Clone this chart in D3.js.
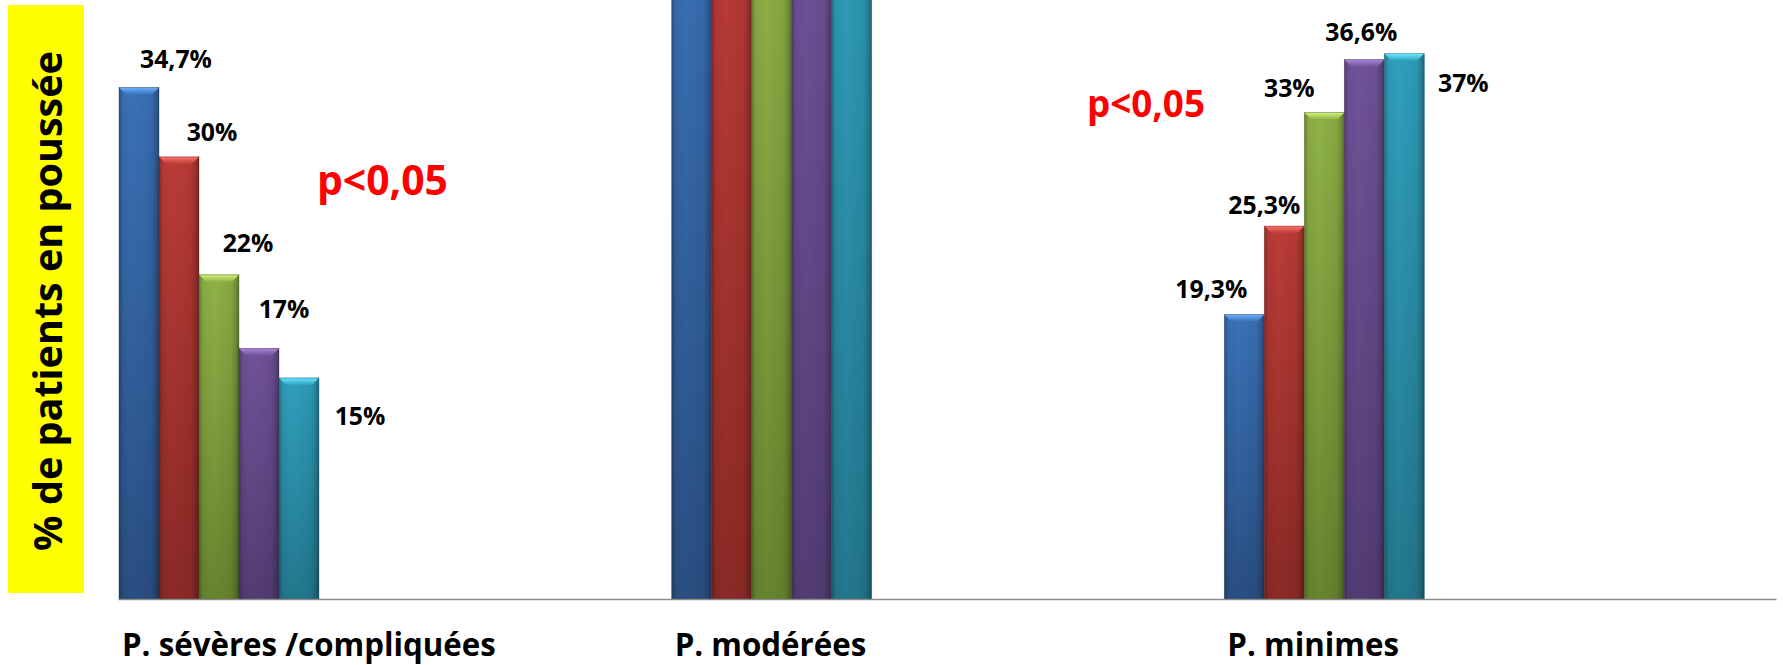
<!DOCTYPE html>
<html>
<head>
<meta charset="utf-8">
<script src="https://cdn.jsdelivr.net/npm/d3@7"></script>
<style>
  html, body { margin: 0; padding: 0; background: #ffffff; overflow: hidden; }
  text { font-family: 'Open Sans', 'DejaVu Sans', sans-serif; font-weight: 700; }
</style>
</head>
<body>
<svg id="chart" width="1783" height="665"></svg>
<script>
// ---- data -------------------------------------------------------------
const categories = ["P. sévères /compliquées", "P. modérées", "P. minimes"];
const seriesNames = ["Série 1", "Série 2", "Série 3", "Série 4", "Série 5"];
// one array per series, values in % for each category
const serie1 = [34.7, 46.0, 19.3];
const serie2 = [30.0, 44.7, 25.3];
const serie3 = [22.0, 45.0, 33.0];
const serie4 = [17.0, 46.4, 36.6];
const serie5 = [15.0, 48.0, 37.0];
const seriesValues = [serie1, serie2, serie3, serie4, serie5];
// categories whose bars carry a value label
const labelledCategories = [0, 2];
const yTitle = "% de patients en poussée";
const pValueText = "p<0,05";

// ---- layout -----------------------------------------------------------
const W = 1783, H = 665;
const axisLeft = 118, axisRight = 1776, baseY = 599;
const groupWidth = 200;
const colors = [
  { top: "#3a72b8", bottom: "#2a4f82", bevel: "#5b97dc" },
  { top: "#bc3c37", bottom: "#8b2a26", bevel: "#dd625c" },
  { top: "#8fb247", bottom: "#67852f", bevel: "#b1d468" },
  { top: "#71539a", bottom: "#533d74", bevel: "#9274bd" },
  { top: "#30a0bd", bottom: "#23788e", bevel: "#58cbe6" }
];
// label offsets (dx from bar centre, dy from bar top to label centre)
const labelOffsets = [
  [[37, -28], null, [-33, -25]],
  [[33, -25], null, [-20, -21]],
  [[29, -32], null, [-35, -25]],
  [[25, -39], null, [-3, -27]],
  [[61, 38], null, [59, 29]]
];
const pAnnotations = [
  { x: 317, y: 195, width: 131 },
  { x: 1087, y: 117, width: 118 }
];

const svg = d3.select("#chart");
const defs = svg.append("defs");

const fr = d3.formatLocale({ decimal: ",", thousands: " ", grouping: [3], currency: ["", " €"] });
const fmt = v => fr.format(".1~f")(v) + "%";

// font size needed for a string to reach a given width
function fitSize(text, target, base = 40) {
  const t = svg.append("text").attr("font-size", base).text(text);
  const w = t.node().getComputedTextLength();
  t.remove();
  return base * target / w;
}

// ---- scales -----------------------------------------------------------
const x = d3.scaleBand().domain(d3.range(categories.length))
  .range([axisLeft, axisRight]).paddingInner(0).paddingOuter(0);
const xs = d3.scaleBand().domain(d3.range(seriesNames.length))
  .range([0, groupWidth]).padding(0);
const pxPerUnit = 14.74;
const y = d3.scaleLinear().domain([0, baseY / pxPerUnit]).range([baseY, 0]);

// ---- gradients --------------------------------------------------------
colors.forEach((c, i) => {
  const g = defs.append("linearGradient").attr("id", "body" + i)
    .attr("x1", 0).attr("y1", 0).attr("x2", 0).attr("y2", 1);
  g.append("stop").attr("offset", 0).attr("stop-color", c.top);
  g.append("stop").attr("offset", 1).attr("stop-color", c.bottom);
  const b = defs.append("linearGradient").attr("id", "bevel" + i)
    .attr("x1", 0).attr("y1", 0).attr("x2", 0).attr("y2", 1);
  b.append("stop").attr("offset", 0).attr("stop-color", d3.color(c.bevel).brighter(0.35));
  b.append("stop").attr("offset", 1).attr("stop-color", c.top);
});
const shade = defs.append("linearGradient").attr("id", "shade")
  .attr("x1", 0).attr("y1", 0).attr("x2", 1).attr("y2", 0);
[[0, 0.28], [0.1, 0.05], [0.35, 0], [0.8, 0.06], [0.92, 0.2], [1, 0.38]].forEach(([o, a]) =>
  shade.append("stop").attr("offset", o).attr("stop-color", "#000").attr("stop-opacity", a));

// ---- y title on yellow band -----------------------------------------
svg.append("rect").attr("x", 8).attr("y", 5).attr("width", 76).attr("height", 588)
  .attr("fill", "#ffff00");
svg.append("text")
  .attr("transform", "translate(62,301) rotate(-90)")
  .attr("text-anchor", "middle")
  .attr("font-size", fitSize(yTitle, 500))
  .attr("fill", "#000")
  .text(yTitle);

// ---- bars -------------------------------------------------------------
const bars = [];
seriesValues.forEach((vals, s) => vals.forEach((v, c) => bars.push({ s, c, v })));

const bevel = 7;
const gBars = svg.append("g");
const bar = gBars.selectAll("g.bar").data(bars).join("g").attr("class", "bar");

bar.append("rect")
  .attr("x", d => x(d.c) + 1 + xs(d.s))
  .attr("y", d => y(d.v))
  .attr("width", xs.bandwidth())
  .attr("height", d => baseY - y(d.v))
  .attr("fill", d => `url(#body${d.s})`);
bar.append("rect")
  .attr("x", d => x(d.c) + 1 + xs(d.s))
  .attr("y", d => y(d.v))
  .attr("width", xs.bandwidth())
  .attr("height", d => baseY - y(d.v))
  .attr("fill", "url(#shade)")
  .attr("stroke", d => d3.color(colors[d.s].bottom).darker(0.8))
  .attr("stroke-opacity", 0.45)
  .attr("stroke-width", 0.8);
bar.append("polygon")
  .attr("points", d => {
    const x0 = x(d.c) + 1 + xs(d.s), x1 = x0 + xs.bandwidth(), t = y(d.v);
    return [[x0 + 0.5, t + 0.5], [x1 - 0.5, t + 0.5], [x1 - bevel, t + bevel], [x0 + bevel, t + bevel]].join(" ");
  })
  .attr("fill", d => `url(#bevel${d.s})`);

// ---- value labels -----------------------------------------------------
const valueSize = fitSize(fmt(serie1[0]), 72);
svg.append("g").selectAll("text")
  .data(bars.filter(d => labelledCategories.includes(d.c)))
  .join("text")
  .attr("x", d => x(d.c) + 1 + xs(d.s) + xs.bandwidth() / 2 + labelOffsets[d.s][d.c][0])
  .attr("y", d => y(d.v) + labelOffsets[d.s][d.c][1])
  .attr("dy", "0.36em")
  .attr("text-anchor", "middle")
  .attr("font-size", valueSize)
  .attr("fill", "#000")
  .text(d => fmt(d.v));

// ---- axis -------------------------------------------------------------
const axis = svg.append("g").attr("transform", `translate(0,${baseY})`)
  .call(d3.axisBottom(x).tickSize(0).tickFormat(""));
axis.select(".domain").attr("stroke", "#8a8a8a").attr("stroke-width", 1.6);

const catSize = fitSize(categories[0], 374);
svg.append("g").selectAll("text").data(categories).join("text")
  .attr("x", (d, i) => x(i) + 4)
  .attr("y", 656)
  .attr("font-size", catSize)
  .attr("fill", "#000")
  .text(d => d);

// ---- significance annotations ----------------------------------------
svg.append("g").selectAll("text").data(pAnnotations).join("text")
  .attr("x", d => d.x)
  .attr("y", d => d.y)
  .attr("font-size", d => fitSize(pValueText, d.width))
  .attr("fill", "#ff0000")
  .text(pValueText);
</script>
</body>
</html>
